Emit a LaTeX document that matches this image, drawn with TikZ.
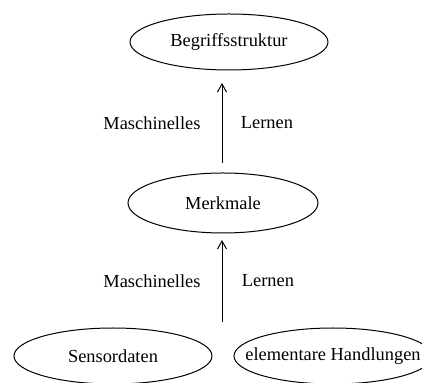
\documentclass[tikz,border=0pt]{standalone}
\usepackage{fontspec}
\setmainfont{Liberation Serif}
\usetikzlibrary{arrows.meta}

\tikzset{every picture/.style={line width=0.5pt}}
\tikzset{begriff/.style={inner sep=0pt,font=\fontsize{9.2}{11}\selectfont}}
\tikzset{lbl/.style={inner sep=0.5pt,font=\fontsize{9.2}{11}\selectfont}}
\tikzset{pfeil/.style={-{Straight Barb[length=4pt,width=4.5pt]}}}

\begin{document}
\begin{tikzpicture}[x=0.5pt,y=0.5pt,yscale=-1,xscale=1]
		\useasboundingbox (0,0) rectangle (422,383);
		
		%Shape: Ellipses
		\node [begriff] (struktur) at (229,42) {Begriffsstruktur};
		\node [begriff] (merkmale) at (223,203) {Merkmale};
		\node [begriff] (sensor) at (113,356) {Sensordaten};
		\node [begriff] (handl) at (333,356) {elementare Handlungen};
		\draw (struktur.center) ellipse [x radius=99, y radius=28];
		\draw (merkmale.center) ellipse [x radius=95, y radius=30];
		\draw (sensor.center) ellipse [x radius=99, y radius=28];
		\draw (handl.center) ellipse [x radius=99, y radius=28];
		
		%Arrows
		\coordinate (oben1) at (222,163);
		\coordinate (oben2) at (222,83);
		\coordinate (unten1) at (222,322);
		\coordinate (unten2) at (222,240);
		\draw [pfeil] (oben1) -- (oben2) ;
		\draw [pfeil] (unten1) -- (unten2) ;
		
		\node [lbl] (ml1) at (152,123) {Maschinelles};
		\node [lbl] (le1) at (267,123) {Lernen};
		\node [lbl] (ml2) at (152,281) {Maschinelles};
		\node [lbl] (le2) at (268,281) {Lernen};
		
\end{tikzpicture}
\end{document}
